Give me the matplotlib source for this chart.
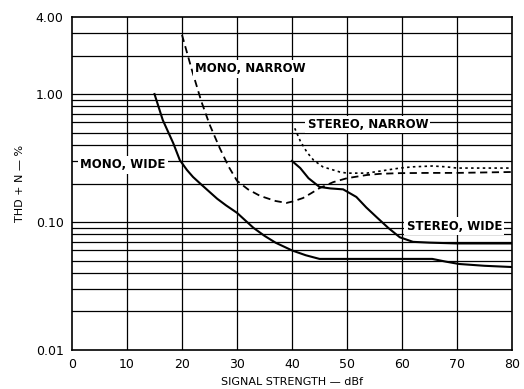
import matplotlib
matplotlib.use("Agg")
import matplotlib.pyplot as plt
import numpy as np

# Data
mono_wide_x = [15, 16.5, 18.4, 19.6, 20.9, 22, 23.3, 25, 26.4, 28, 30, 31.5, 33, 35, 37, 40, 42.5, 45, 50, 55, 60, 65.5, 68, 70.4, 75, 80]
mono_wide_y = [1.0, 0.627, 0.414, 0.305, 0.255, 0.225, 0.20, 0.172, 0.152, 0.135, 0.118, 0.103, 0.09, 0.078, 0.069, 0.060, 0.055, 0.0515, 0.0515, 0.0515, 0.0515, 0.0515, 0.049, 0.047, 0.0455, 0.0445]

mono_narrow_x = [20, 21.8, 23.5, 25, 26.9, 28.5, 30, 32, 34.2, 37, 39, 40.2, 42, 43.5, 45, 47.5, 50, 53.6, 56, 59.6, 65, 70, 75, 80]
mono_narrow_y = [2.9, 1.54, 0.88, 0.58, 0.375, 0.27, 0.21, 0.18, 0.16, 0.146, 0.141, 0.145, 0.154, 0.168, 0.184, 0.205, 0.22, 0.233, 0.238, 0.241, 0.242, 0.242, 0.244, 0.246]

stereo_narrow_x = [40.5, 41.5, 42.7, 43.9, 45.6, 48.7, 50, 53.6, 56, 59.6, 62, 65.6, 68, 70, 75, 80]
stereo_narrow_y = [0.54, 0.43, 0.352, 0.305, 0.27, 0.246, 0.241, 0.241, 0.25, 0.264, 0.27, 0.274, 0.27, 0.264, 0.264, 0.264]

stereo_wide_x = [40, 41.5, 43, 45, 47, 49.3, 51.7, 53.5, 55.4, 57.5, 59.6, 62, 65, 70, 75, 80]
stereo_wide_y = [0.30, 0.264, 0.22, 0.188, 0.183, 0.18, 0.157, 0.13, 0.109, 0.09, 0.076, 0.07, 0.069, 0.068, 0.068, 0.068]

x_ticks = [0, 10, 20, 30, 40, 50, 60, 70, 80]
y_ticks = [0.01, 0.1, 1.0, 4.0]
y_tick_labels = ["0.01", "0.10", "1.00", "4.00"]
y_grid = [0.02, 0.03, 0.04, 0.05, 0.06, 0.07, 0.08, 0.09, 0.1,
          0.2, 0.3, 0.4, 0.5, 0.6, 0.7, 0.8, 0.9, 1.0, 2.0, 3.0]

labels = [("MONO, NARROW", 32.5, 1.57), ("STEREO, NARROW", 53.8, 0.58),
          ("MONO, WIDE", 9.3, 0.279), ("STEREO, WIDE", 69.5, 0.093)]

fig = plt.figure(figsize=(5.24, 3.89), dpi=100)
ax = fig.add_axes([72/524, 39/389, 440/524, 333/389])
ax.set_yscale("log")
ax.set_xlim(0, 80)
ax.set_ylim(0.01, 4.0)

for yv in y_grid:
    ax.axhline(yv, color="black", lw=0.9, zorder=1)
for xv in x_ticks[1:-1]:
    ax.axvline(xv, color="black", lw=0.9, zorder=1)

ax.plot(mono_wide_x, mono_wide_y, color="black", lw=1.5, zorder=3)
ax.plot(mono_narrow_x, mono_narrow_y, color="black", lw=1.3, ls=(0, (4, 2.5)), zorder=3)
ax.plot(stereo_narrow_x, stereo_narrow_y, color="black", lw=1.2, ls=(0, (1.5, 2)), zorder=3)
ax.plot(stereo_wide_x, stereo_wide_y, color="black", lw=1.5, zorder=3)

for txt, xv, yv in labels:
    ax.text(xv, yv, txt, ha="center", va="center", fontsize=8.5, fontweight="bold",
            family=["Liberation Sans Narrow", "DejaVu Sans"], zorder=4,
            bbox=dict(facecolor="white", edgecolor="none", pad=1.5))

ax.set_xticks(x_ticks)
ax.set_xticklabels([str(v) for v in x_ticks])
ax.set_yticks(y_ticks)
ax.set_yticklabels(y_tick_labels)
ax.yaxis.set_minor_locator(matplotlib.ticker.NullLocator())
ax.tick_params(length=0, labelsize=9, pad=6)
ax.set_xlabel("SIGNAL STRENGTH — dBf", fontsize=8, labelpad=4)
ax.set_ylabel("THD + N — %", fontsize=8, labelpad=8)
for s in ax.spines.values():
    s.set_linewidth(1.2)

fig.savefig("out.png", dpi=100)
